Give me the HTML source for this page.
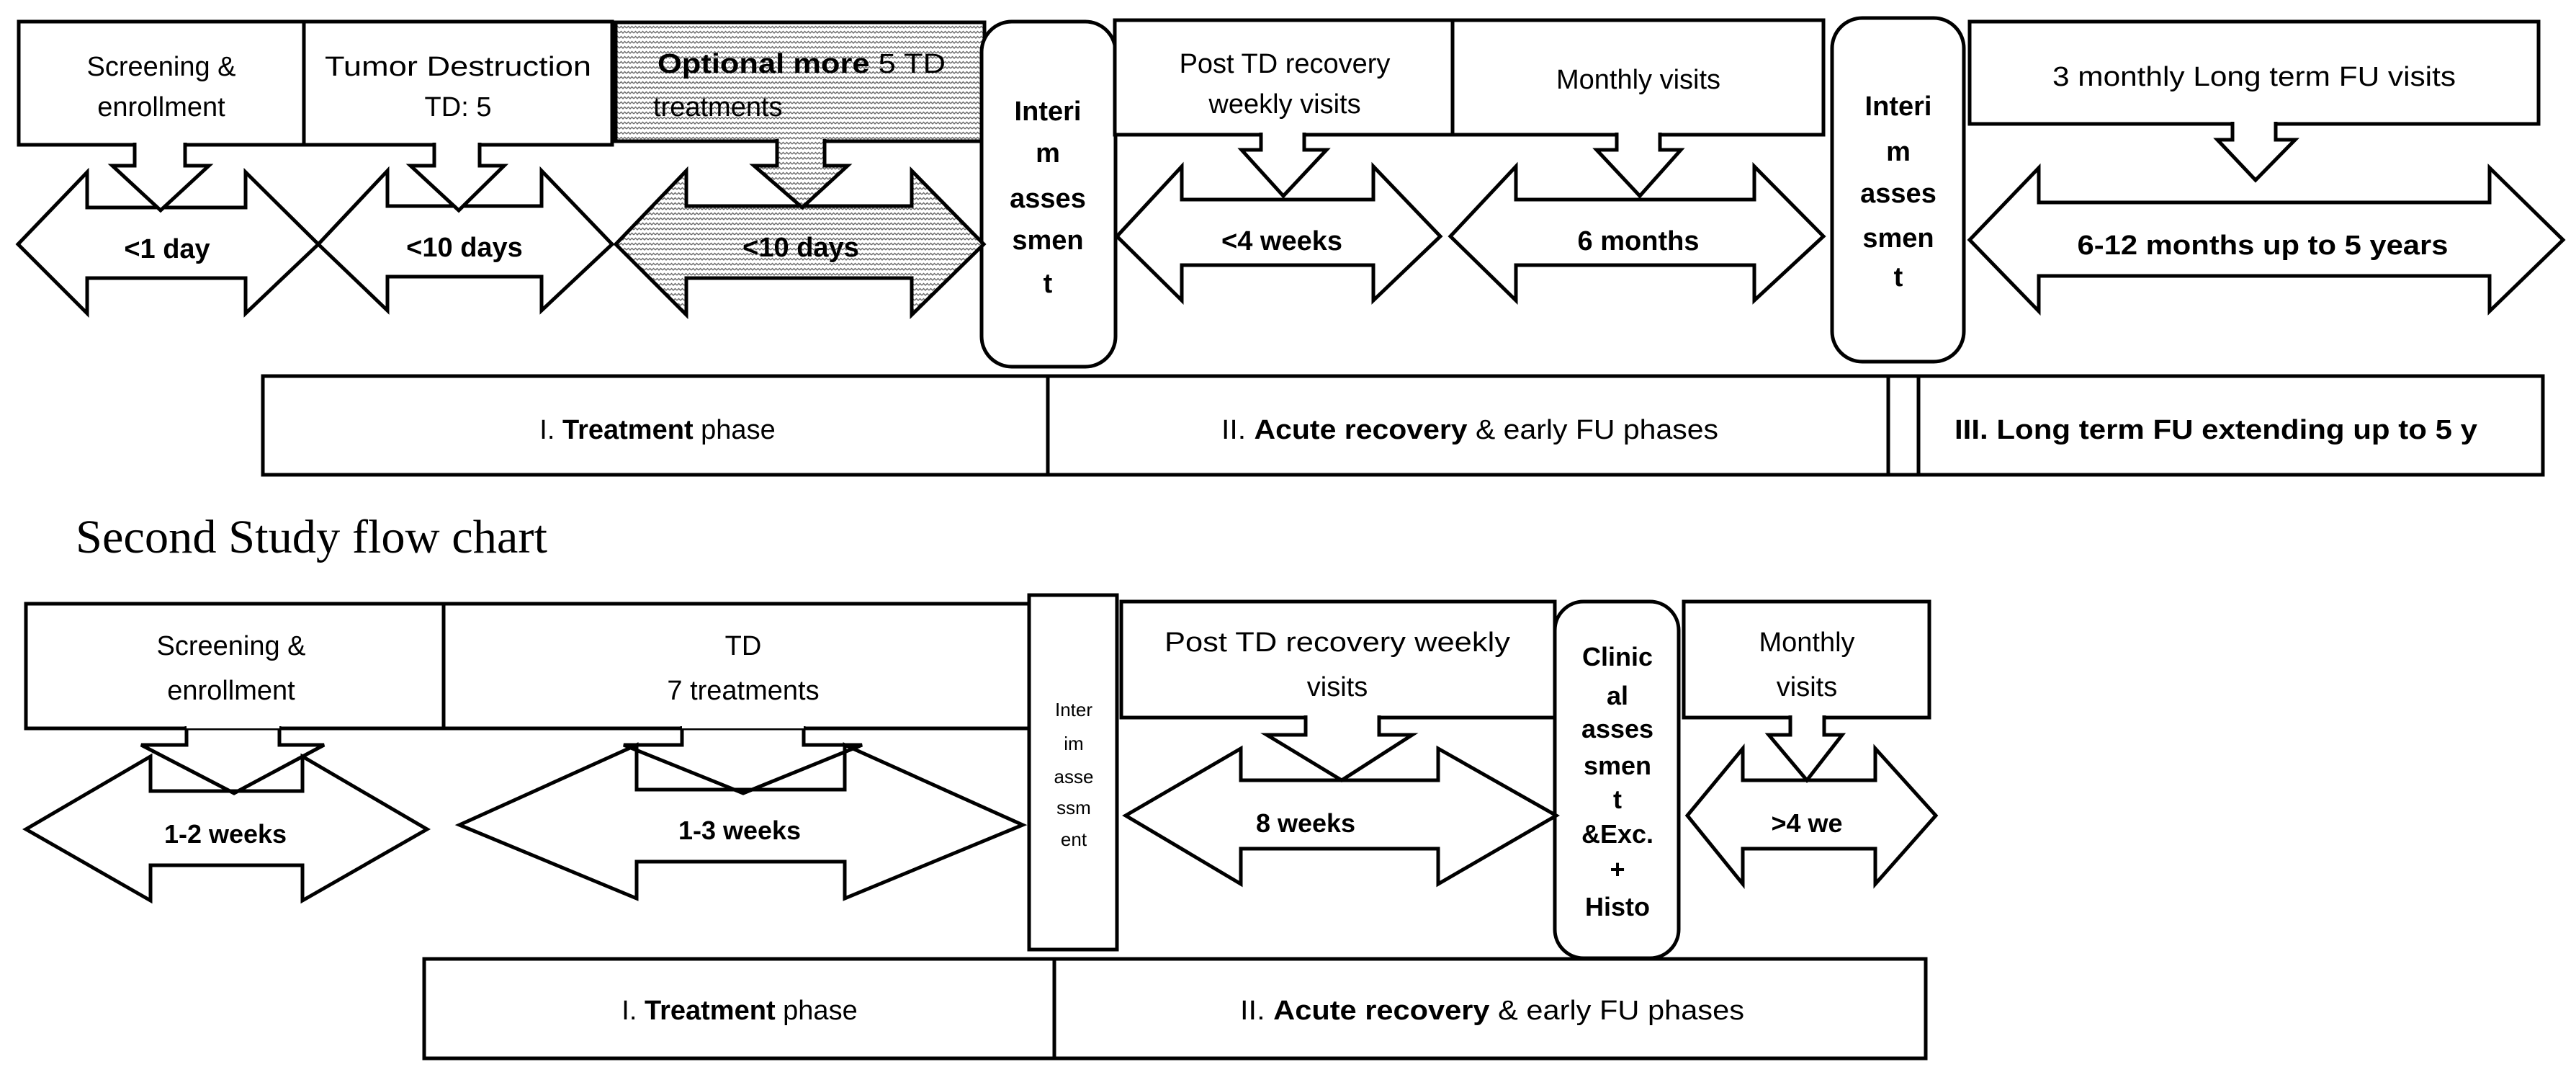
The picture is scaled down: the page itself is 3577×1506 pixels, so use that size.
<!DOCTYPE html>
<html><head><meta charset="utf-8"><style>
html,body{margin:0;padding:0;background:#fff;}
svg{display:block;}
text{font-family:"Liberation Sans",Arial,sans-serif;fill:#000;}
</style></head><body>
<svg width="3577" height="1506" viewBox="0 0 3577 1506" xmlns="http://www.w3.org/2000/svg">
<defs>
<pattern id="zz" width="10" height="7" patternUnits="userSpaceOnUse">
<rect width="10" height="7" fill="#fff"/>
<path d="M0 4 L2.5 1.5 L5 4 L7.5 1.5 L10 4" fill="none" stroke="#6a6a6a" stroke-width="1.4"/>
</pattern>
</defs>
<g stroke="#000" stroke-width="5" fill="#fff" stroke-linejoin="miter">
<!-- TOP ROW boxes -->
<rect x="26" y="30" width="396" height="171"/>
<rect x="422" y="30" width="428" height="171"/>
<rect x="855" y="31" width="512" height="165" fill="url(#zz)"/>
<rect x="1363" y="30" width="186" height="479" rx="42"/>
<rect x="1548" y="28" width="469" height="159"/>
<rect x="2017" y="28" width="515" height="159"/>
<rect x="2544" y="25" width="183" height="477" rx="42"/>
<rect x="2735" y="30" width="790" height="142"/>
<!-- double arrows top -->
<polygon points="25,339 121,239 121,288 341,288 341,239 442,339 341,435 341,386 121,386 121,435"/>
<polygon points="442,339 538,237 538,286 752,286 752,237 850,339 752,431 752,384 538,384 538,431"/>
<polygon points="855,339 953,237 953,286 1266,286 1266,237 1366,339 1266,437 1266,386 953,386 953,437" fill="url(#zz)"/>
<polygon points="1551,328 1641,231 1641,277 1907,277 1907,231 2000,328 1907,417 1907,368 1641,368 1641,417"/>
<polygon points="2014,328 2105,231 2105,277 2436,277 2436,231 2532,328 2436,417 2436,368 2105,368 2105,417"/>
<polygon points="2735,333 2831,233 2831,281 3457,281 3457,233 3559,333 3457,432 3457,383 2831,383 2831,432"/>
<!-- down arrows top -->
<path d="M187 198 L187 230 L156 230 L223 292 L290 230 L257 230 L257 198"/>
<path d="M603 198 L603 230 L570 230 L637 292 L700 230 L666 230 L666 198"/>
<path d="M1079 193 L1079 230 L1047 230 L1114 288 L1177 230 L1145 230 L1145 193" fill="url(#zz)"/>
<path d="M1751 184 L1751 208 L1724 208 L1782 272 L1842 208 L1811 208 L1811 184"/>
<path d="M2245 184 L2245 208 L2217 208 L2277 272 L2334 208 L2305 208 L2305 184"/>
<path d="M3100 169 L3100 194 L3079 194 L3132 250 L3187 194 L3160 194 L3160 169"/>
<!-- phase bar top -->
<rect x="365" y="522" width="3166" height="137"/>
<line x1="1455" y1="522" x2="1455" y2="659"/>
<line x1="2622" y1="522" x2="2622" y2="659"/>
<line x1="2664" y1="522" x2="2664" y2="659"/>

<!-- BOTTOM ROW -->
<rect x="36" y="838" width="580" height="173"/>
<rect x="616" y="838" width="827" height="173"/>
<rect x="1429" y="826" width="122" height="492"/>
<rect x="1557" y="835" width="602" height="161"/>
<rect x="2159" y="835" width="172" height="495" rx="40"/>
<rect x="2338" y="835" width="341" height="161"/>
<polygon points="36,1151 209,1050 209,1098 420,1098 420,1050 593,1151 420,1250 420,1201 209,1201 209,1250"/>
<polygon points="638,1145 884,1034 884,1096 1173,1096 1173,1034 1420,1145 1173,1247 1173,1196 884,1196 884,1247"/>
<polygon points="1563,1132 1723,1039 1723,1083 1997,1083 1997,1039 2161,1132 1997,1227 1997,1178 1723,1178 1723,1227"/>
<polygon points="2343,1132 2420,1039 2420,1083 2604,1083 2604,1039 2688,1132 2604,1227 2604,1178 2420,1178 2420,1227"/>
<path d="M259 1008 L259 1034 L196 1034 L325 1101 L450 1034 L388 1034 L388 1008" fill="none"/>
<path d="M947 1008 L947 1034 L866 1034 L1032 1101 L1197 1034 L1116 1034 L1116 1008" fill="none"/>
<line x1="259" y1="1008" x2="388" y2="1008" stroke="#fff" stroke-width="6"/>
<line x1="947" y1="1008" x2="1116" y2="1008" stroke="#fff" stroke-width="6"/>
<path d="M1813 993 L1813 1020 L1759 1020 L1863 1083 L1961 1020 L1915 1020 L1915 993"/>
<path d="M2486 993 L2486 1020 L2456 1020 L2509 1083 L2558 1020 L2533 1020 L2533 993"/>
<rect x="589" y="1331" width="2085" height="138"/>
<line x1="1464" y1="1331" x2="1464" y2="1469"/>
</g>

<!-- TEXT top -->
<g font-size="38" text-anchor="middle">
<text x="224" y="105">Screening &amp;</text>
<text x="224" y="161">enrollment</text>
<text x="636" y="105" textLength="370" lengthAdjust="spacingAndGlyphs">Tumor Destruction</text>
<text x="636" y="161">TD: 5</text>
<text x="1784" y="101">Post TD recovery</text>
<text x="1784" y="157">weekly visits</text>
<text x="2275" y="123">Monthly visits</text>
<text x="3130" y="119" textLength="560" lengthAdjust="spacingAndGlyphs">3 monthly Long term FU visits</text>
</g>
<text x="913" y="101" font-size="38" textLength="400" lengthAdjust="spacingAndGlyphs"><tspan font-weight="bold">Optional more</tspan> 5 TD</text>
<text x="907" y="161" font-size="38">treatments</text>
<g font-size="38" font-weight="bold" text-anchor="middle">
<text x="232" y="358">&lt;1 day</text>
<text x="645" y="356">&lt;10 days</text>
<text x="1112" y="356">&lt;10 days</text>
<text x="1780" y="347">&lt;4 weeks</text>
<text x="2275" y="347">6 months</text>
<text x="3142" y="353" textLength="515" lengthAdjust="spacingAndGlyphs">6-12 months up to 5 years</text>
<text x="1455" y="167">Interi</text>
<text x="1455" y="225">m</text>
<text x="1455" y="288">asses</text>
<text x="1455" y="346">smen</text>
<text x="1455" y="406">t</text>
<text x="2636" y="160">Interi</text>
<text x="2636" y="223">m</text>
<text x="2636" y="281">asses</text>
<text x="2636" y="343">smen</text>
<text x="2636" y="397">t</text>
</g>
<g font-size="38" text-anchor="middle">
<text x="913" y="609">I. <tspan font-weight="bold">Treatment</tspan> phase</text>
<text x="2041" y="609" textLength="690" lengthAdjust="spacingAndGlyphs">II. <tspan font-weight="bold">Acute recovery</tspan> &amp; early FU phases</text>
<text x="3077" y="609" font-weight="bold" textLength="726" lengthAdjust="spacingAndGlyphs">III. Long term FU extending up to 5 y</text>
</g>

<text x="105" y="767" font-family="Liberation Serif,serif" font-size="66" textLength="655" lengthAdjust="spacingAndGlyphs" style="font-family:'Liberation Serif',serif">Second Study flow chart</text>

<!-- TEXT bottom -->
<g font-size="38" text-anchor="middle">
<text x="321" y="909">Screening &amp;</text>
<text x="321" y="971">enrollment</text>
<text x="1032" y="909">TD</text>
<text x="1032" y="971">7 treatments</text>
<text x="1857" y="904" textLength="480" lengthAdjust="spacingAndGlyphs">Post TD recovery weekly</text>
<text x="1857" y="966">visits</text>
<text x="2509" y="904">Monthly</text>
<text x="2509" y="966">visits</text>
</g>
<g font-size="36" font-weight="bold" text-anchor="middle">
<text x="313" y="1170">1-2 weeks</text>
<text x="1027" y="1165">1-3 weeks</text>
<text x="1813" y="1155">8 weeks</text>
<text x="2509" y="1155">&gt;4 we</text>
</g>
<g font-size="26" text-anchor="middle">
<text x="1491" y="994">Inter</text>
<text x="1491" y="1041">im</text>
<text x="1491" y="1087">asse</text>
<text x="1491" y="1130">ssm</text>
<text x="1491" y="1174">ent</text>
</g>
<g font-size="36" font-weight="bold" text-anchor="middle">
<text x="2246" y="924">Clinic</text>
<text x="2246" y="978">al</text>
<text x="2246" y="1024">asses</text>
<text x="2246" y="1075">smen</text>
<text x="2246" y="1122">t</text>
<text x="2246" y="1170">&amp;Exc.</text>
<text x="2246" y="1219">+</text>
<text x="2246" y="1271">Histo</text>
</g>
<g font-size="38" text-anchor="middle">
<text x="1027" y="1415">I. <tspan font-weight="bold">Treatment</tspan> phase</text>
<text x="2072" y="1415" textLength="700" lengthAdjust="spacingAndGlyphs">II. <tspan font-weight="bold">Acute recovery</tspan> &amp; early FU phases</text>
</g>
</svg>
</body></html>
